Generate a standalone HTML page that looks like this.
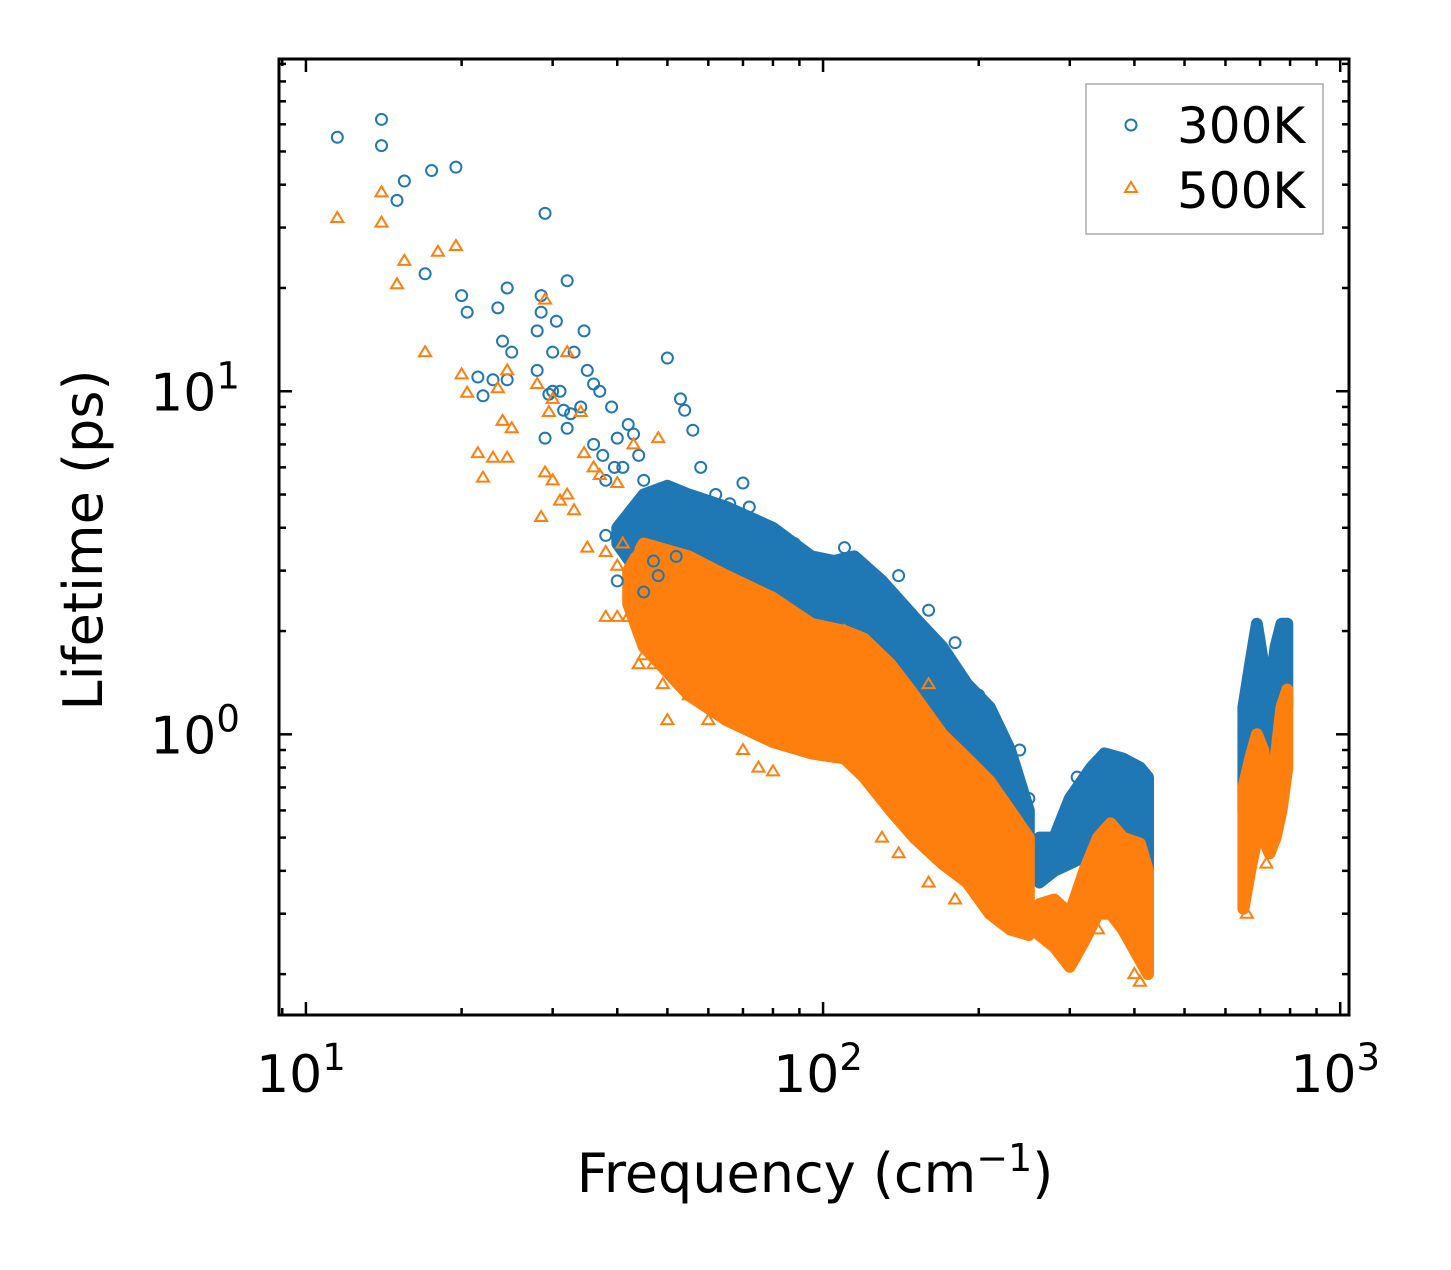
<!DOCTYPE html>
<html><head><meta charset="utf-8"><style>
body{margin:0;background:#fff}
svg text{font-family:"DejaVu Sans","Liberation Sans",sans-serif;fill:#000}
</style></head><body>
<svg id="chart" width="1451" height="1265" xmlns="http://www.w3.org/2000/svg">
<g id="bands"></g>
<g id="pts"></g>
<rect x="279" y="59" width="1070" height="956" fill="none" stroke="#000" stroke-width="3"/>
<g id="ticks"></g>
<text transform="translate(102,540) rotate(-90)" text-anchor="middle" font-size="54">Lifetime (ps)</text>
<text x="815" y="1192" text-anchor="middle" font-size="54">Frequency (cm<tspan font-size="38" dy="-21">−1</tspan><tspan dy="21">)</tspan></text>
<g>
<rect x="1086" y="84" width="237" height="150" fill="#fff" stroke="#aaa" stroke-width="1.5"/>
<circle cx="1131" cy="125" r="5.5" fill="none" stroke="#1f77b4" stroke-width="2"/>
<text x="1177" y="143" font-size="50">300K</text>
<path d="M1131,182 L1137,192 L1125,192 Z" fill="none" stroke="#ff7f0e" stroke-width="2"/>
<text x="1177" y="208" font-size="50">500K</text>
</g>
</svg>
<script>
const xLogMin = Math.log10(8.87), xLogMax = Math.log10(1040);
const yLogMin = Math.log10(0.152), yLogMax = Math.log10(93);
const blueBandFreq1 = [40,45,50,55,65,80,95,105,115,130,150,170,190,210,230,250];
const blueBandHi1   = [4.0,5.0,5.3,5.0,4.6,4.0,3.3,3.2,3.3,2.8,2.2,1.8,1.4,1.2,0.9,0.6];
const blueBandLo1   = [3.6,2.8,2.4,2.2,2.0,1.8,1.6,1.5,1.4,1.2,0.95,0.8,0.65,0.55,0.48,0.45];
const blueBandFreq2 = [262,280,300,330,350,380,410,425];
const blueBandHi2   = [0.5,0.5,0.65,0.8,0.88,0.85,0.8,0.75];
const blueBandLo2   = [0.37,0.4,0.42,0.45,0.5,0.45,0.4,0.33];
const blueBandFreq3 = [650,670,690,710,730,750,770,790];
const blueBandHi3   = [1.2,1.6,2.1,1.6,1.3,1.8,2.1,2.1];
const blueBandLo3   = [0.6,0.7,0.8,0.7,0.6,0.8,1.0,1.2];
const orBandFreq1 = [42,45,55,65,80,95,110,120,135,150,170,190,210,230,250];
const orBandHi1   = [3.0,3.6,3.3,2.9,2.5,2.1,2.0,1.9,1.6,1.3,1.0,0.85,0.73,0.6,0.5];
const orBandLo1   = [2.4,1.8,1.3,1.1,0.95,0.88,0.85,0.75,0.6,0.5,0.42,0.37,0.3,0.27,0.26];
const orBandFreq2 = [262,280,300,320,340,360,380,410,425];
const orBandHi2   = [0.32,0.33,0.3,0.4,0.5,0.55,0.5,0.48,0.4];
const orBandLo2   = [0.26,0.24,0.21,0.25,0.3,0.3,0.27,0.22,0.2];
const orBandFreq3 = [650,670,690,710,730,750,770,790];
const orBandHi3   = [0.7,0.85,1.0,0.9,0.6,0.85,1.2,1.35];
const orBandLo3   = [0.31,0.4,0.5,0.5,0.45,0.5,0.6,0.8];
const blueFreq = [11.5,14,14,15,15.5,17,17.5,19.5,20,20.5,21.5,22,23,23.5,24,24.5,24.5,25,28,28,28.5,28.5,29,29,29.5,30,30,30.5,31,31.5,32,32,32.5,33,34,34.5,35,36,36,37,37.5,38,39,39.5,40,41,42,43,44,45,46,48,50,53,54,56,58,62,66,70,72,110,240,250,310,45,48,52,60,75,88,140,160,180,200,38,40,42,44,47];
const blueLife = [55,62,52,36,41,22,44,45,19,17,11,9.7,10.8,17.5,14,20,10.8,13,15,11.5,17,19,33,7.3,9.8,10,13,16,10,8.8,21,7.8,8.6,13,9,15,11.5,7,10.5,10,6.5,5.5,9,6,7.3,6,8,7.5,6.5,5.5,5,4.7,12.5,9.5,8.8,7.7,6,5,4.7,5.4,4.6,3.5,0.9,0.65,0.75,2.6,2.9,3.3,3.6,4.1,3.6,2.9,2.3,1.85,1.3,3.8,2.8,3.5,4.5,3.2];
const orFreq = [11.5,14,14,15,15.5,17,18,19.5,20,20.5,21.5,22,23,23.5,24,24.5,24.5,25,28,28.5,29,29,29.5,30,30,31,32,32,33,34,34.5,35,36,37,38,40,40,42,43,44,45,47,48,49,50,55,60,70,75,80,130,140,160,180,200,340,400,410,720,660,110,160,38,40,41];
const orLife = [32,38,31,20.5,24,13,25.5,26.5,11.2,9.9,6.6,5.6,6.4,10.2,8.2,11.5,6.4,7.8,10.5,4.3,18.5,5.8,8.7,9.5,5.5,4.8,13,5,4.5,8.7,6.6,3.5,6,5.7,2.2,5.4,2.2,2.2,7,1.6,1.7,1.6,7.3,1.4,1.1,1.3,1.1,0.9,0.8,0.78,0.5,0.45,0.37,0.33,0.35,0.27,0.2,0.19,0.42,0.3,2.0,1.4,3.4,3.1,3.6];

const X0=279,X1=1349,Y0=59,Y1=1015;
const xS=f=>X0+(Math.log10(f)-xLogMin)/(xLogMax-xLogMin)*(X1-X0);
const yS=v=>Y1-(Math.log10(v)-yLogMin)/(yLogMax-yLogMin)*(Y1-Y0);
const NS="http://www.w3.org/2000/svg";
const bands=document.getElementById('bands'),pts=document.getElementById('pts'),ticks=document.getElementById('ticks');
function band(fr,hi,lo,col,name){
  let d='M'+fr.map((f,i)=>xS(f).toFixed(1)+','+yS(hi[i]).toFixed(1)).join(' L');
  for(let i=fr.length-1;i>=0;i--) d+=' L'+xS(fr[i]).toFixed(1)+','+yS(lo[i]).toFixed(1);
  const p=document.createElementNS(NS,'path');
  p.setAttribute('d',d+'Z');p.setAttribute('fill',col);p.setAttribute('stroke',col);
  p.setAttribute('stroke-width','12');p.setAttribute('stroke-linejoin','round');
  
  
  bands.appendChild(p);
}
band(blueBandFreq1,blueBandHi1,blueBandLo1,'#1f77b4','band-300k');
band(blueBandFreq2,blueBandHi2,blueBandLo2,'#1f77b4','band-300k');
band(blueBandFreq3,blueBandHi3,blueBandLo3,'#1f77b4','band-300k');
band(orBandFreq1,orBandHi1,orBandLo1,'#ff7f0e','band-500k');
band(orBandFreq2,orBandHi2,orBandLo2,'#ff7f0e','band-500k');
band(orBandFreq3,orBandHi3,orBandLo3,'#ff7f0e','band-500k');
blueFreq.forEach((f,i)=>{
  const c=document.createElementNS(NS,'circle');
  c.setAttribute('cx',xS(f));c.setAttribute('cy',yS(blueLife[i]));c.setAttribute('r',5.5);
  c.setAttribute('fill','none');c.setAttribute('stroke','#1f77b4');c.setAttribute('stroke-width',2);
  
  
  pts.appendChild(c);
});
orFreq.forEach((f,i)=>{
  const x=xS(f),y=yS(orLife[i]);
  const p=document.createElementNS(NS,'path');
  p.setAttribute('d',`M${x},${y-6} L${x+6},${y+4} L${x-6},${y+4} Z`);
  p.setAttribute('fill','none');p.setAttribute('stroke','#ff7f0e');p.setAttribute('stroke-width',2);
  
  
  pts.appendChild(p);
});
function line(x1,y1,x2,y2){
  const l=document.createElementNS(NS,'line');
  l.setAttribute('x1',x1);l.setAttribute('y1',y1);l.setAttribute('x2',x2);l.setAttribute('y2',y2);
  l.setAttribute('stroke','#000');l.setAttribute('stroke-width',2.5);
  
  
  ticks.appendChild(l);
}
function label(x,y,exp,name){
  const t=document.createElementNS(NS,'text');
  t.setAttribute('x',x);t.setAttribute('y',y);t.setAttribute('font-size','52');t.setAttribute('text-anchor','middle');
  t.innerHTML='10<tspan font-size="37" dy="-22">'+exp+'</tspan>';
  
  
  ticks.appendChild(t);
}
for(let e=0;e<4;e++)for(let m=1;m<10;m++){
  const f=m*Math.pow(10,e); if(f<8.87||f>1040)continue;
  const x=xS(f),L=m===1?13:7;
  line(x,Y1,x,Y1-L);line(x,Y0,x,Y0+L);
  if(m===1)label(x-5,1092,e,'x-tick-label');
}
for(let e=-1;e<2;e++)for(let m=1;m<10;m++){
  const v=m*Math.pow(10,e); if(v<0.152||v>93)continue;
  const y=yS(v),L=m===1?13:7;
  line(X0,y,X0+L,y);line(X1,y,X1-L,y);
  if(m===1)label(195,y+19,e,'y-tick-label');
}
</script>
</body></html>
